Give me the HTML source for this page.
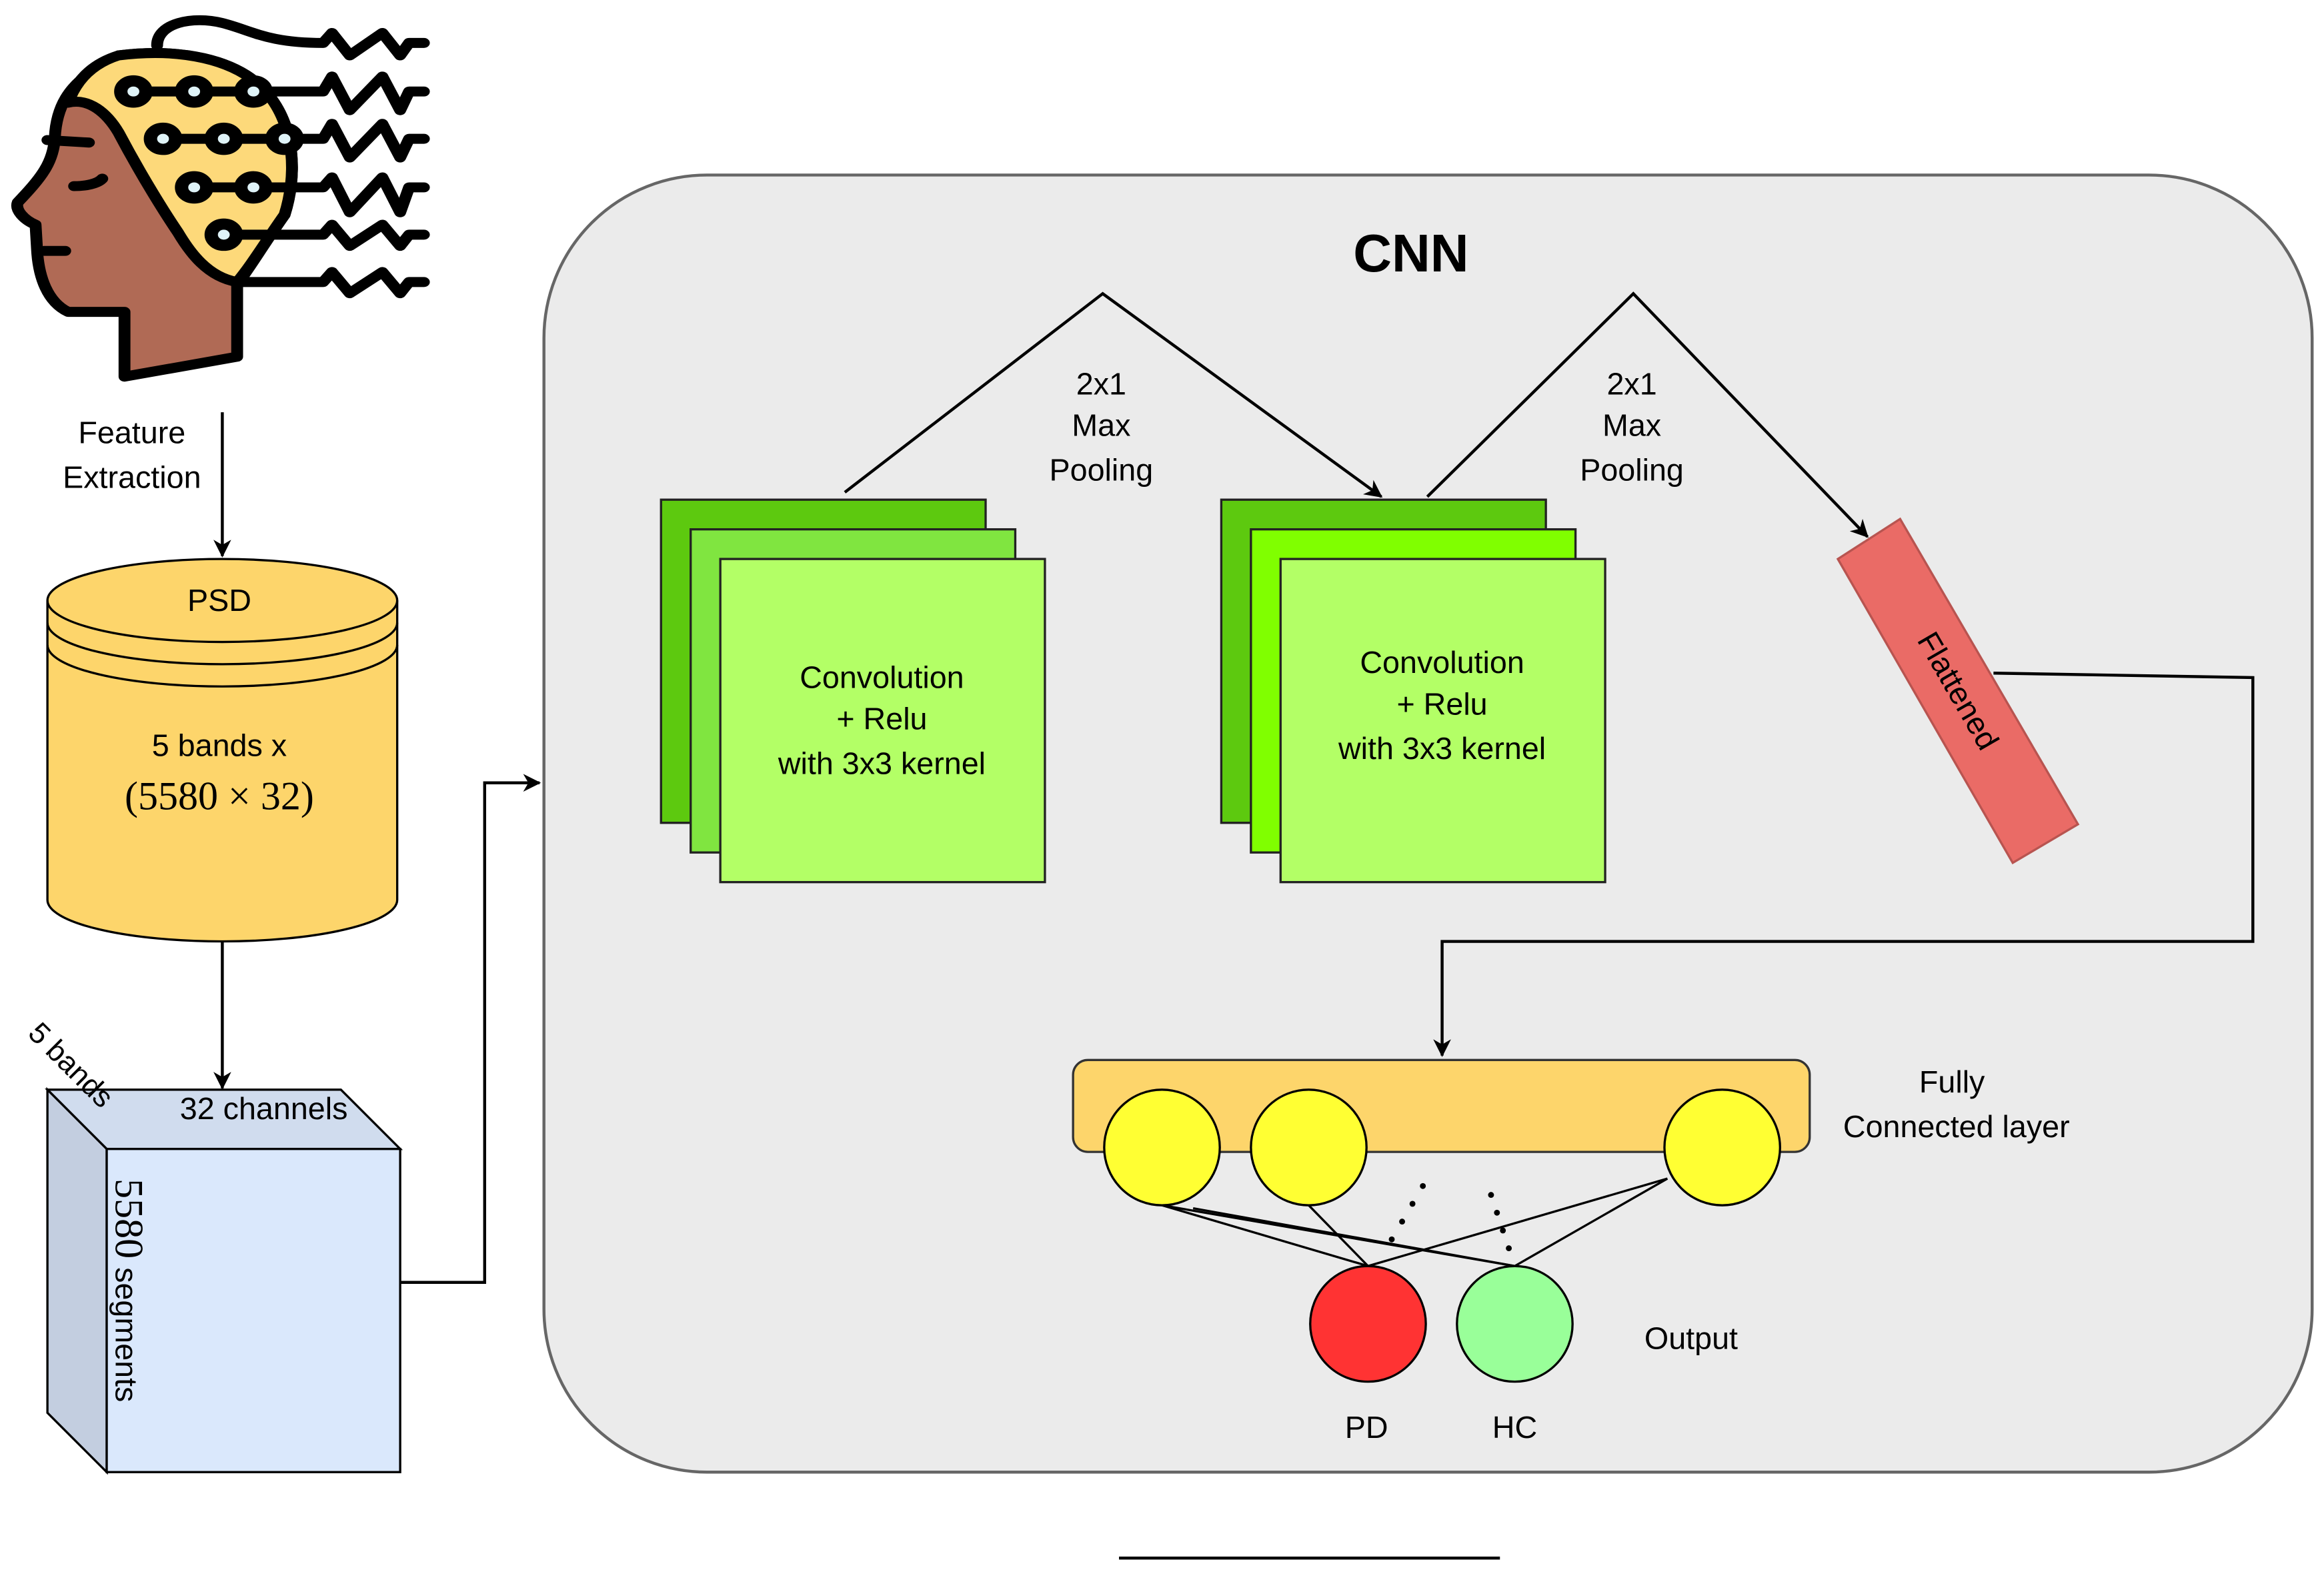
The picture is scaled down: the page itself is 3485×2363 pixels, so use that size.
<!DOCTYPE html>
<html><head><meta charset="utf-8"><style>html,body{margin:0;padding:0;background:#fff}svg{display:block}</style></head>
<body>
<svg xmlns="http://www.w3.org/2000/svg" width="3485" height="2363" viewBox="0 0 1568 1063" font-family="Liberation Sans, sans-serif">
<defs>
<marker id="ar" markerWidth="12" markerHeight="12" refX="11" refY="6" orient="auto" markerUnits="userSpaceOnUse"><path d="M0,0 L12,6 L0,12 L3.5,6 Z" fill="#000"/></marker>
</defs>
<rect width="1568" height="1063" fill="#fff"/>
<!-- head -->
<g transform="translate(0,2) scale(0.2,0.168)" stroke="#000" stroke-width="40" stroke-linecap="round" stroke-linejoin="round">
<path d="M330,260 C230,330 190,420 185,540 C180,640 140,700 60,800 C50,830 80,870 120,890 L125,990 C130,1100 160,1200 230,1240 L420,1240 L420,1500 L800,1420 L800,1130 C850,1050 900,950 960,850 C1000,700 1000,500 900,360 C800,220 600,180 400,210 Z" fill="#B06A55"/>
<path d="M230,400 C300,380 360,440 400,520 C480,700 560,850 600,920 C640,1000 700,1100 800,1120 C850,1050 900,950 960,850 C1000,700 1000,500 900,360 C800,220 600,180 400,210 C320,240 260,300 230,400 Z" fill="#FDD97A"/>
<path d="M160,550 L300,560 M250,735 C290,735 330,725 345,705 M150,995 L220,995" fill="none"/>
<path d="M530,170 C530,80 650,50 750,80 C850,110 900,160 1090,160 L1120,120 L1180,210 L1290,120 L1350,210 L1380,160 L1430,160" fill="none"/>
<g fill="none">
<path d="M450,355 H1090 L1120,295 L1180,430 L1290,295 L1350,430 L1380,355 H1430"/>
<path d="M550,545 H1090 L1120,485 L1180,620 L1290,485 L1350,620 L1380,545 H1430"/>
<path d="M655,740 H1090 L1120,700 L1180,840 L1290,700 L1350,840 L1380,740 H1430"/>
<path d="M755,930 H1090 L1120,890 L1180,975 L1290,890 L1350,975 L1380,930 H1430"/>
<path d="M800,1120 H1090 L1120,1080 L1180,1165 L1290,1080 L1350,1165 L1380,1120 H1430"/>
</g>
<g fill="#000">
<circle cx="450" cy="355" r="45"/><circle cx="655" cy="355" r="45"/><circle cx="855" cy="355" r="45"/>
<circle cx="550" cy="545" r="45"/><circle cx="755" cy="545" r="45"/><circle cx="960" cy="545" r="45"/>
<circle cx="655" cy="740" r="45"/><circle cx="855" cy="740" r="45"/><circle cx="755" cy="930" r="45"/>
</g>
<g fill="#DFF3F8" stroke="none">
<circle cx="450" cy="355" r="20"/><circle cx="655" cy="355" r="20"/><circle cx="855" cy="355" r="20"/>
<circle cx="550" cy="545" r="20"/><circle cx="755" cy="545" r="20"/><circle cx="960" cy="545" r="20"/>
<circle cx="655" cy="740" r="20"/><circle cx="855" cy="740" r="20"/><circle cx="755" cy="930" r="20"/>
</g>
</g>
<g font-size="21" text-anchor="middle" fill="#000">
<text x="89" y="299">Feature</text><text x="89" y="329">Extraction</text>
</g>
<line x1="150" y1="278" x2="150" y2="375" stroke="#000" stroke-width="2" marker-end="url(#ar)"/>
<!-- cylinder -->
<path d="M32,405 A118,28 0 0 1 268,405 V607 A118,28 0 0 1 32,607 Z" fill="#FDD56B" stroke="#000" stroke-width="1.5"/>
<path d="M32,405 A118,28 0 0 0 268,405 M32,420 A118,28 0 0 0 268,420 M32,435 A118,28 0 0 0 268,435" fill="none" stroke="#000" stroke-width="1.5"/>
<g font-size="21" text-anchor="middle">
<text x="148" y="412">PSD</text>
<text x="148" y="510">5 bands x</text>
<text x="148" y="546" font-family="Liberation Serif, serif" font-size="27">(5580 × 32)</text>
</g>
<line x1="150" y1="635" x2="150" y2="734" stroke="#000" stroke-width="2" marker-end="url(#ar)"/>
<!-- cube -->
<polygon points="32,735 230,735 270,775 72,775" fill="#D0DCEE" stroke="#000" stroke-width="1.5"/>
<polygon points="32,735 72,775 72,993 32,953" fill="#C3CEE0" stroke="#000" stroke-width="1.5"/>
<rect x="72" y="775" width="198" height="218" fill="#DAE8FC" stroke="#000" stroke-width="1.5"/>
<text x="178" y="755" font-size="21" text-anchor="middle">32 channels</text>
<text transform="translate(18,698) rotate(45)" font-size="20">5 bands</text>
<text transform="translate(78,795) rotate(90)" font-size="21"><tspan font-family="Liberation Serif, serif" font-size="27">5580</tspan> segments</text>
<polyline points="270,865 327,865 327,528 364,528" fill="none" stroke="#000" stroke-width="2" marker-end="url(#ar)"/>
<!-- CNN box -->
<rect x="367" y="118" width="1193" height="875" rx="110" fill="#EBEBEB" stroke="#666" stroke-width="2"/>
<text x="952" y="183" font-size="36" font-weight="bold" text-anchor="middle">CNN</text>
<g stroke="#222" stroke-width="1.5">
<rect x="446" y="337" width="219" height="218" fill="#5DC90F"/>
<rect x="466" y="357" width="219" height="218" fill="#80E540"/>
<rect x="486" y="377" width="219" height="218" fill="#B3FF66"/>
<rect x="824" y="337" width="219" height="218" fill="#5DC90F"/>
<rect x="844" y="357" width="219" height="218" fill="#80FF00"/>
<rect x="864" y="377" width="219" height="218" fill="#B3FF66"/>
</g>
<g font-size="21" text-anchor="middle">
<text x="595" y="464">Convolution</text><text x="595" y="492">+ Relu</text><text x="595" y="522">with 3x3 kernel</text>
<text x="973" y="454">Convolution</text><text x="973" y="482">+ Relu</text><text x="973" y="512">with 3x3 kernel</text>
<text x="743" y="266">2x1</text><text x="743" y="294">Max</text><text x="743" y="324">Pooling</text>
<text x="1101" y="266">2x1</text><text x="1101" y="294">Max</text><text x="1101" y="324">Pooling</text>
</g>
<polyline points="570,332 744,198 932,335" fill="none" stroke="#000" stroke-width="2" marker-end="url(#ar)"/>
<polyline points="963,335 1102,198 1260,362" fill="none" stroke="#000" stroke-width="2" marker-end="url(#ar)"/>
<polygon points="1240,377 1282,350 1402,556 1358,582" fill="#EA6B66" stroke="#B85450" stroke-width="1.5"/>
<text transform="translate(1321,466) rotate(60)" font-size="21" text-anchor="middle" dy="7">Flattened</text>
<polyline points="1345,454 1520,457 1520,635 973,635 973,712" fill="none" stroke="#000" stroke-width="2" marker-end="url(#ar)"/>
<!-- FC -->
<rect x="724" y="715" width="497" height="62" rx="10" fill="#FDD56B" stroke="#333" stroke-width="1.5"/>
<g stroke="#000" stroke-width="1.5">
<line x1="784" y1="813" x2="923" y2="854"/><line x1="784" y1="813" x2="1022" y2="854"/>
<line x1="883" y1="813" x2="923" y2="854"/><line x1="805" y1="815" x2="1022" y2="854"/>
<line x1="1125" y1="795" x2="923" y2="854"/><line x1="1125" y1="795" x2="1022" y2="854"/>
</g>
<g fill="#FFFF33" stroke="#000" stroke-width="1.5">
<circle cx="784" cy="774" r="39"/><circle cx="883" cy="774" r="39"/><circle cx="1162" cy="774" r="39"/>
</g>
<g fill="#000"><circle cx="960" cy="800" r="2"/><circle cx="953" cy="812" r="2"/><circle cx="946" cy="824" r="2"/><circle cx="939" cy="836" r="2"/>
<circle cx="1006" cy="806" r="2"/><circle cx="1010" cy="818" r="2"/><circle cx="1014" cy="830" r="2"/><circle cx="1018" cy="842" r="2"/></g>
<circle cx="923" cy="893" r="39" fill="#FF3333" stroke="#000" stroke-width="1.5"/>
<circle cx="1022" cy="893" r="39" fill="#99FF99" stroke="#000" stroke-width="1.5"/>
<g font-size="21" text-anchor="middle">
<text x="1317" y="737">Fully</text><text x="1320" y="767">Connected layer</text>
<text x="1141" y="910">Output</text><text x="922" y="970">PD</text><text x="1022" y="970">HC</text>
</g>
<line x1="755" y1="1051" x2="1012" y2="1051" stroke="#000" stroke-width="2"/>
</svg>
</body></html>
